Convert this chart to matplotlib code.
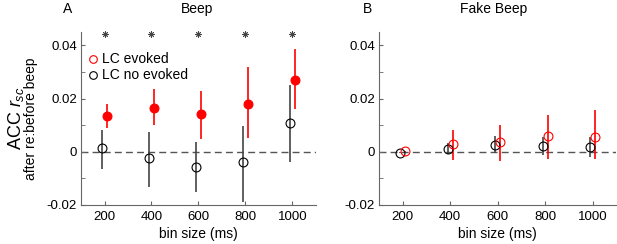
import matplotlib
matplotlib.use('Agg')
import matplotlib.pyplot as plt
from matplotlib.lines import Line2D
from matplotlib.ticker import MultipleLocator
import numpy as np

plt.rcParams['font.family'] = ['Liberation Sans', 'DejaVu Sans']
plt.rcParams['mathtext.fontset'] = 'custom'
plt.rcParams['mathtext.it'] = 'Liberation Sans:italic'
plt.rcParams['mathtext.rm'] = 'Liberation Sans'

bins = np.array([200, 400, 600, 800, 1000])

# A - Beep
beep_ev = [0.0133, 0.0165, 0.0140, 0.0180, 0.0271]
beep_ev_lo = [0.0090, 0.0100, 0.0046, 0.0050, 0.0161]
beep_ev_hi = [0.0180, 0.0235, 0.0230, 0.0320, 0.0385]
beep_no = [0.0015, -0.0025, -0.0058, -0.0040, 0.0109]
beep_no_lo = [-0.0065, -0.0131, -0.0150, -0.0187, -0.0037]
beep_no_hi = [0.0081, 0.0075, 0.0038, 0.0097, 0.0250]

# B - Fake Beep
fake_ev = [0.0001, 0.0028, 0.0035, 0.0058, 0.0055]
fake_ev_lo = [-0.0002, -0.0030, -0.0036, -0.0027, -0.0029]
fake_ev_hi = [0.0003, 0.0080, 0.0100, 0.0137, 0.0156]
fake_no = [-0.0004, 0.0012, 0.0025, 0.0022, 0.0018]
fake_no_lo = [-0.0006, -0.0010, -0.0005, -0.0012, -0.0020]
fake_no_hi = [-0.0002, 0.0034, 0.0060, 0.0056, 0.0056]

sig_y = 0.0441

red = '#ff0000'
dark = '#444444'
axc = '#666666'

fig = plt.figure(figsize=(6.17, 2.44), dpi=100)
axA = fig.add_axes([0.1313, 0.16, 0.3807, 0.709])
axB = fig.add_axes([0.6143, 0.16, 0.3847, 0.709])


def panel(ax, ev, ev_lo, ev_hi, no, no_lo, no_hi, filled):
    ax.axhline(0, color='#555555', lw=1.0, ls=(0, (5, 3)), zorder=1)
    xn = bins - 10
    xe = bins + 10
    ax.vlines(xn, no_lo, no_hi, color=dark, lw=1.2, zorder=2)
    ax.plot(xn, no, 'o', ms=6.4, mfc='none', mec='black', mew=0.8, zorder=3)
    ax.vlines(xe, ev_lo, ev_hi, color=red, lw=1.2, zorder=2)
    if filled:
        ax.plot(xe, ev, 'o', ms=6.4, mfc=red, mec=red, mew=0.8, zorder=3)
    else:
        ax.plot(xe, ev, 'o', ms=6.4, mfc='none', mec=red, mew=0.8, zorder=3)
    ax.set_xlim(100, 1100)
    ax.set_ylim(-0.02, 0.045)
    ax.set_xticks(bins)
    ax.set_yticks([-0.02, 0, 0.02, 0.04])
    ax.set_yticklabels(['-0.02', '0', '0.02', '0.04'])
    ax.yaxis.set_minor_locator(MultipleLocator(0.01))
    ax.tick_params(direction='in', length=3, labelsize=9.5, color=axc)
    ax.tick_params(which='minor', direction='in', length=3, color=axc)
    ax.tick_params(axis='x', pad=4)
    ax.tick_params(axis='y', pad=3)
    for s in ['top', 'right']:
        ax.spines[s].set_visible(False)
    for s in ['left', 'bottom']:
        ax.spines[s].set_color(axc)
    ax.set_xlabel('bin size (ms)', fontsize=10, labelpad=3)


panel(axA, beep_ev, beep_ev_lo, beep_ev_hi, beep_no, beep_no_lo, beep_no_hi, True)
panel(axB, fake_ev, fake_ev_lo, fake_ev_hi, fake_no, fake_no_lo, fake_no_hi, False)

axA.plot(bins, [sig_y] * len(bins), ls='none', marker=(8, 2, 0), ms=4.5,
         mec='#444444', mew=0.6, clip_on=False)

fig.text(0.32, 0.965, 'Beep', fontsize=10, va='center', ha='center')
fig.text(0.80, 0.965, 'Fake Beep', fontsize=10, va='center', ha='center')
fig.text(0.11, 0.965, 'A', fontsize=10, va='center', ha='center')
fig.text(0.596, 0.965, 'B', fontsize=10, va='center', ha='center')

ymid = 0.16 + 0.709 / 2
fig.text(0.026, ymid, 'ACC $r_{sc}$', fontsize=13, rotation=90, va='center', ha='center')
fig.text(0.051, ymid, 'after re:before beep', fontsize=10, rotation=90, va='center', ha='center')

handles = [Line2D([], [], ls='none', marker='o', ms=5.5, mfc='none', mec=red, mew=0.8),
           Line2D([], [], ls='none', marker='o', ms=5.5, mfc='none', mec='black', mew=0.8)]
axA.legend(handles, ['LC evoked', 'LC no evoked'], loc='upper left',
           bbox_to_anchor=(-0.02, 0.93), frameon=False, fontsize=10,
           handletextpad=0.05, borderaxespad=0.2, labelspacing=0.15, handlelength=1.2)

fig.savefig('out.png', dpi=100)
